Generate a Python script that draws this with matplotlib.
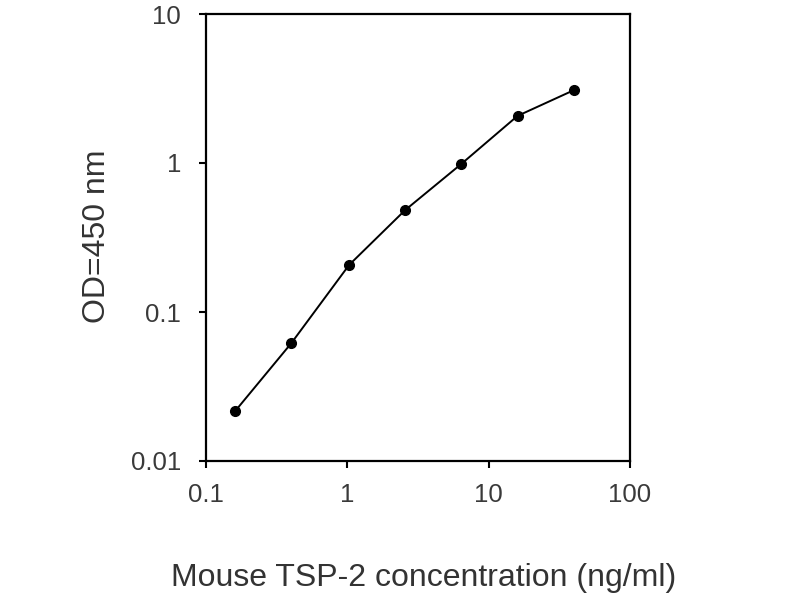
import matplotlib
matplotlib.use("Agg")
import matplotlib.pyplot as plt
from matplotlib.ticker import FixedLocator, FixedFormatter, NullLocator

# Data
concentration = [0.16, 0.40, 1.03, 2.56, 6.4, 16.0, 40.0]
od450 = [0.0215, 0.0615, 0.207, 0.482, 0.985, 2.07, 3.08]
x_ticks = [0.1, 1, 10, 100]
x_tick_labels = ["0.1", "1", "10", "100"]
y_ticks = [0.01, 0.1, 1, 10]
y_tick_labels = ["0.01", "0.1", "1", "10"]

plt.rcParams['font.family'] = ['Liberation Sans', 'DejaVu Sans']

fig = plt.figure(figsize=(8, 6), dpi=100)
ax = fig.add_axes([206/800, 1 - 461/600, 424/800, 447/600])

ax.plot(concentration, od450, color='black', linewidth=1.4, marker='o',
        markersize=7, markerfacecolor='black', markeredgecolor='black')

ax.set_xscale('log')
ax.set_yscale('log')
ax.set_xlim(0.1, 100)
ax.set_ylim(0.01, 10)

ax.xaxis.set_major_locator(FixedLocator(x_ticks))
ax.xaxis.set_major_formatter(FixedFormatter(x_tick_labels))
ax.yaxis.set_major_locator(FixedLocator(y_ticks))
ax.yaxis.set_major_formatter(FixedFormatter(y_tick_labels))
ax.xaxis.set_minor_locator(NullLocator())
ax.yaxis.set_minor_locator(NullLocator())

for s in ax.spines.values():
    s.set_linewidth(1.6)
    s.set_color('black')

ax.tick_params(axis='both', which='major', direction='out', length=5, width=1.5,
               labelsize=18.5, labelcolor='#3a3a3a')
ax.tick_params(axis='x', pad=11)
ax.tick_params(axis='y', pad=13)

ax.set_xlabel("Mouse TSP-2 concentration (ng/ml)", fontsize=23, color='#333333')
ax.set_ylabel("OD=450 nm", fontsize=23, color='#333333')
ax.xaxis.set_label_coords(0.514, -0.262)
ax.xaxis.label.set_va('center')
ax.yaxis.set_label_coords(-0.257, 0.502)
ax.yaxis.label.set_va('center')

fig.savefig("out.png", dpi=100, facecolor='white')
